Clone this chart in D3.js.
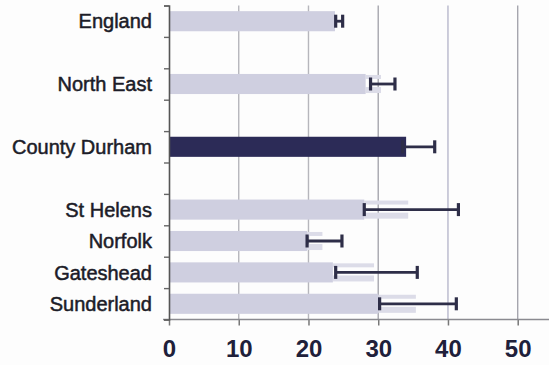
<!DOCTYPE html>
<html>
<head>
<meta charset="utf-8">
<script src="https://cdn.jsdelivr.net/npm/d3@7"></script>
<style>
  html, body { margin: 0; padding: 0; background: #fdfdfd; }
  svg { display: block; }
  text { font-family: "Liberation Sans", Arial, sans-serif; }
</style>
</head>
<body>
<svg id="chart" width="549" height="365"></svg>
<script>
// Areas, grouped; a blank row separates each group
const groups = [
  ["England"],
  ["North East"],
  ["County Durham"],
  ["St Helens", "Norfolk", "Gateshead", "Sunderland"]
];
const categories = ["England", "North East", "County Durham", "St Helens", "Norfolk", "Gateshead", "Sunderland"];
// solid bar length
const barValues = [23.8, 28.2, 34.0, 28.0, 19.8, 23.5, 30.0];
// faded continuation of the bar (null where none is shown)
const fadedValues = [null, 30.4, null, 34.3, 22.0, 29.4, 35.4];
// confidence interval
const ciLow  = [23.9, 28.9, 33.5, 28.0, 19.8, 23.9, 30.2];
const ciHigh = [24.9, 32.4, 38.1, 41.5, 24.8, 35.6, 41.2];
const highlight = "County Durham";
const xTicks = [0, 10, 20, 30, 40, 50];

const svg = d3.select("#chart");
const W = 549, H = 365;
const margin = { left: 169, right: 31.3, top: 5.5, bottom: 45.5 };

// slot index for each category, leaving an empty slot between groups
const slotOf = new Map();
let slot = 0;
groups.forEach((g, gi) => {
  if (gi > 0) slot += 1;
  g.forEach(name => { slotOf.set(name, slot); slot += 1; });
});
const nSlots = slot;

const x = d3.scaleLinear().domain([0, 50]).range([margin.left, W - margin.right]);
const y = d3.scaleBand()
  .domain(d3.range(nSlots))
  .range([margin.top, H - margin.bottom])
  .paddingInner(0.36)
  .paddingOuter(0.18);
const yEdge = d3.scaleLinear().domain([0, nSlots]).range([margin.top, H - margin.bottom]);

const rows = categories.map((name, i) => ({
  name, bar: barValues[i], faded: fadedValues[i], lo: ciLow[i], hi: ciHigh[i],
  slot: slotOf.get(name)
}));

const axisY = H - margin.bottom;

// vertical gridlines
svg.append("g").selectAll("line")
  .data(xTicks.filter(d => d > 0))
  .join("line")
  .attr("x1", d => x(d)).attr("x2", d => x(d))
  .attr("y1", margin.top).attr("y2", axisY)
  .attr("stroke", d => d === 40 ? "#b8b8cc" : d < 30 ? "#b6b6bc" : "#a6a6ae")
  .attr("stroke-width", 1.4);

// faded bar continuations, drawn as thin strips along the top and bottom edges
const fadedRows = rows.filter(d => d.faded != null);
const fg = svg.append("g").attr("fill", "#dcdce8");
fg.selectAll("rect.top").data(fadedRows).join("rect")
  .attr("class", "top")
  .attr("x", d => x(d.bar))
  .attr("width", d => x(d.faded) - x(d.bar))
  .attr("y", d => y(d.slot) + 1)
  .attr("height", 4);
fg.selectAll("rect.bottom").data(fadedRows).join("rect")
  .attr("class", "bottom")
  .attr("x", d => x(d.bar))
  .attr("width", d => x(d.faded) - x(d.bar))
  .attr("y", d => y(d.slot) + y.bandwidth() - 7)
  .attr("height", 6);

// bars
svg.append("g").selectAll("rect")
  .data(rows)
  .join("rect")
  .attr("x", x(0))
  .attr("y", d => y(d.slot))
  .attr("width", d => x(d.bar) - x(0))
  .attr("height", y.bandwidth())
  .attr("fill", d => d.name === highlight ? "#2c2b57" : "#cfcfe0");

// error bars
const eg = svg.append("g").attr("stroke", "#2e2e48");
const cy = d => y(d.slot) + y.bandwidth() / 2;
eg.selectAll("line.ci").data(rows).join("line")
  .attr("class", "ci")
  .attr("x1", d => x(d.lo)).attr("x2", d => x(d.hi))
  .attr("y1", cy).attr("y2", cy)
  .attr("stroke-width", 2.8);
eg.selectAll("line.capl").data(rows).join("line")
  .attr("class", "capl")
  .attr("x1", d => x(d.lo)).attr("x2", d => x(d.lo))
  .attr("y1", d => cy(d) - 6.5).attr("y2", d => cy(d) + 6.5)
  .attr("stroke-width", 3.2);
eg.selectAll("line.caph").data(rows).join("line")
  .attr("class", "caph")
  .attr("x1", d => x(d.hi)).attr("x2", d => x(d.hi))
  .attr("y1", d => cy(d) - 6.5).attr("y2", d => cy(d) + 6.5)
  .attr("stroke-width", 3.2);

// x axis
const xAxis = svg.append("g")
  .attr("transform", `translate(0,${axisY})`)
  .call(d3.axisBottom(x).tickValues(xTicks).tickSize(6).tickPadding(14));
xAxis.select(".domain").remove();
xAxis.selectAll(".tick line").attr("stroke", "#777").attr("stroke-width", 1.5);
xAxis.selectAll(".tick text")
  .attr("fill", "#20203a")
  .attr("font-size", 24)
  .attr("font-weight", "bold")
  .attr("font-family", "Liberation Sans, Arial, sans-serif");
svg.append("line")
  .attr("x1", x(0) - 6).attr("x2", W)
  .attr("y1", axisY).attr("y2", axisY)
  .attr("stroke", "#8a8a90").attr("stroke-width", 1.6);

// y axis with ticks at row boundaries
const yAxis = svg.append("g")
  .attr("transform", `translate(${x(0)},0)`)
  .call(d3.axisLeft(yEdge).tickValues(d3.range(nSlots + 1)).tickSize(5).tickFormat(""));
yAxis.select(".domain").attr("stroke", "#555").attr("stroke-width", 1.6);
yAxis.selectAll(".tick line").attr("stroke", "#666").attr("stroke-width", 1.4);

// category labels
svg.append("g").selectAll("text")
  .data(rows)
  .join("text")
  .attr("x", 152)
  .attr("y", d => cy(d))
  .attr("dy", "0.36em")
  .attr("text-anchor", "end")
  .attr("font-size", 20)
  .attr("fill", "#1c1c28")
  .attr("stroke", "#1c1c28")
  .attr("stroke-width", 0.5)
  .text(d => d.name);
</script>
</body>
</html>
